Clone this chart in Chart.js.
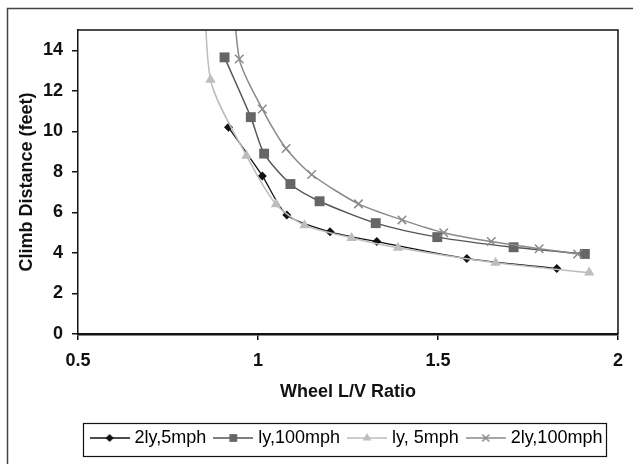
<!DOCTYPE html>
<html>
<head>
<meta charset="utf-8">
<script src="https://cdn.jsdelivr.net/npm/chart.js@4"></script>
<style>
  html, body { margin: 0; padding: 0; background: #fff; }
  #wrap { width: 633px; height: 464px; }
</style>
</head>
<body>
<div id="wrap"><canvas id="myChart" width="633" height="464"></canvas></div>
<script>
// === Daten ===
const seriesNames = ['2ly,5mph', 'ly,100mph', 'ly, 5mph', '2ly,100mph'];

const ratio2ly5mph = [0.918, 1.012, 1.08, 1.2, 1.33, 1.58, 1.83];
const climb2ly5mph = [10.2, 7.8, 5.87, 5.04, 4.56, 3.72, 3.23];

const ratioLy100mph = [0.907, 0.98, 1.017, 1.09, 1.171, 1.327, 1.498, 1.71, 1.908];
const climbLy100mph = [13.65, 10.7, 8.9, 7.4, 6.55, 5.47, 4.78, 4.28, 3.95];

// erster Punkt liegt oberhalb des sichtbaren Bereichs
const ratioLy5mph = [0.85, 0.868, 0.968, 1.05, 1.129, 1.26, 1.389, 1.66, 1.92];
const climbLy5mph = [20, 12.55, 8.8, 6.4, 5.37, 4.74, 4.26, 3.52, 3.03];

const ratio2ly100mph = [0.92, 0.948, 1.012, 1.078, 1.149, 1.279, 1.4, 1.516, 1.648, 1.781, 1.888];
const climb2ly100mph = [20, 13.57, 11.1, 9.15, 7.87, 6.42, 5.63, 5.0, 4.56, 4.21, 3.95];

const xTicks = [0.5, 1, 1.5, 2];
const yTicks = [0, 2, 4, 6, 8, 10, 12, 14];

// === Stil ===
const styles = [
    { line: '#111111', fill: '#111111', point: 'rectRot', radius: 4.5, legendRadius: 4 },
    { line: '#555555', fill: '#666666', point: 'rect', radius: 7, legendRadius: 5.5 },
    { line: '#bdbdbd', fill: '#bdbdbd', point: 'triangle', radius: 6, legendRadius: 5 },
    { line: '#8a8a8a', fill: '#8a8a8a', point: 'crossRot', radius: 6, legendRadius: 5 }
];

Chart.defaults.font.family = "'Liberation Sans', Arial, sans-serif";
Chart.defaults.color = '#111';

function toPoints(xs, ys) {
    return xs.map((x, i) => ({ x: x, y: ys[i] }));
}

const allSeries = [
    toPoints(ratio2ly5mph, climb2ly5mph),
    toPoints(ratioLy100mph, climbLy100mph),
    toPoints(ratioLy5mph, climbLy5mph),
    toPoints(ratio2ly100mph, climb2ly100mph)
];

// kleine Bilder für die Legende: Linie + Marker
function legendSample(s) {
    const c = document.createElement('canvas');
    c.width = 40; c.height = 18;
    const g = c.getContext('2d');
    g.strokeStyle = s.line; g.lineWidth = 1.5;
    g.beginPath(); g.moveTo(0, 9); g.lineTo(40, 9); g.stroke();
    g.fillStyle = s.fill; g.strokeStyle = s.fill; g.lineWidth = 1.5;
    Chart.helpers.drawPoint(g, {
        pointStyle: s.point, radius: s.legendRadius,
        borderWidth: s.point === 'crossRot' ? 1.5 : 0, rotation: 0
    }, 20, 9);
    return c;
}

// Rahmen um Diagramm, Plotfläche und Legende
const framePlugin = {
    id: 'frames',
    afterDraw(chart) {
        const ctx = chart.ctx;
        const a = chart.chartArea;
        ctx.save();
        // äusserer Rahmen
        ctx.strokeStyle = '#444'; ctx.lineWidth = 1.5;
        ctx.beginPath();
        ctx.moveTo(7.5, 470); ctx.lineTo(7.5, 8.5); ctx.lineTo(640, 8.5);
        ctx.stroke();
        // Plotfläche oben + rechts
        ctx.strokeStyle = '#111'; ctx.lineWidth = 1.5;
        ctx.beginPath();
        ctx.moveTo(a.left, a.top); ctx.lineTo(a.right, a.top); ctx.lineTo(a.right, a.bottom);
        ctx.stroke();
        // Legende
        const hb = chart.legend.legendHitBoxes;
        if (hb && hb.length) {
            const first = hb[0], last = hb[hb.length - 1];
            const cy = first.top + first.height / 2;
            const x0 = first.left - 11, x1 = last.left + last.width + 3;
            ctx.strokeStyle = '#111'; ctx.lineWidth = 1.2;
            ctx.strokeRect(Math.round(x0) + 0.5, Math.round(cy - 15) + 0.5, Math.round(x1 - x0), 33);
        }
        ctx.restore();
    }
};

const myChart = new Chart(document.getElementById('myChart'), {
    type: 'scatter',
    data: {
        datasets: allSeries.map((pts, i) => ({
            label: seriesNames[i],
            data: pts,
            showLine: true,
            tension: 0.25,
            borderColor: styles[i].line,
            borderWidth: i === 0 ? 1.3 : 1.5,
            pointStyle: styles[i].point,
            pointRadius: styles[i].radius,
            pointHoverRadius: styles[i].radius,
            pointBackgroundColor: styles[i].fill,
            pointBorderColor: styles[i].fill,
            pointBorderWidth: styles[i].point === 'crossRot' ? 1.5 : 0,
            order: 4 - i
        }))
    },
    options: {
        responsive: false,
        animation: false,
        layout: { padding: { top: 30, right: 7, left: 10, bottom: 7 } },
        plugins: {
            tooltip: { enabled: false },
            legend: {
                position: 'bottom',
                fullSize: false,
                labels: {
                    font: { size: 18 },
                    usePointStyle: true,
                    pointStyleWidth: 32,
                    padding: 11,
                    generateLabels: (chart) => seriesNames.map((name, i) => ({
                        text: name,
                        pointStyle: legendSample(styles[i]),
                        fillStyle: styles[i].fill,
                        strokeStyle: styles[i].line,
                        lineWidth: 0,
                        hidden: false,
                        datasetIndex: i
                    }))
                }
            }
        },
        scales: {
            x: {
                type: 'linear',
                min: 0.5, max: 2,
                afterBuildTicks: (axis) => { axis.ticks = xTicks.map(v => ({ value: v })); },
                ticks: {
                    font: { size: 18, weight: 'bold' }, padding: 10, maxRotation: 0,
                    callback: (v) => String(v)
                },
                grid: { drawOnChartArea: false, tickLength: 6, color: '#111', lineWidth: 1.5 },
                border: { color: '#111', width: 2.5 },
                title: {
                    display: true, text: 'Wheel L/V Ratio',
                    font: { size: 18, weight: 'bold' },
                    padding: { top: -0.7, bottom: 15.5 }
                }
            },
            y: {
                type: 'linear',
                min: 0, max: 15,
                afterBuildTicks: (axis) => { axis.ticks = yTicks.map(v => ({ value: v })); },
                ticks: { font: { size: 18, weight: 'bold' }, padding: 9 },
                grid: { drawOnChartArea: false, tickLength: 6, color: '#111', lineWidth: 1.5 },
                border: { color: '#111', width: 1.5 },
                title: {
                    display: true, text: 'Climb Distance (feet)',
                    font: { size: 18, weight: 'bold' },
                    padding: { top: 6.7, bottom: -4.3 }
                }
            }
        }
    },
    plugins: [framePlugin]
});
</script>
</body>
</html>
